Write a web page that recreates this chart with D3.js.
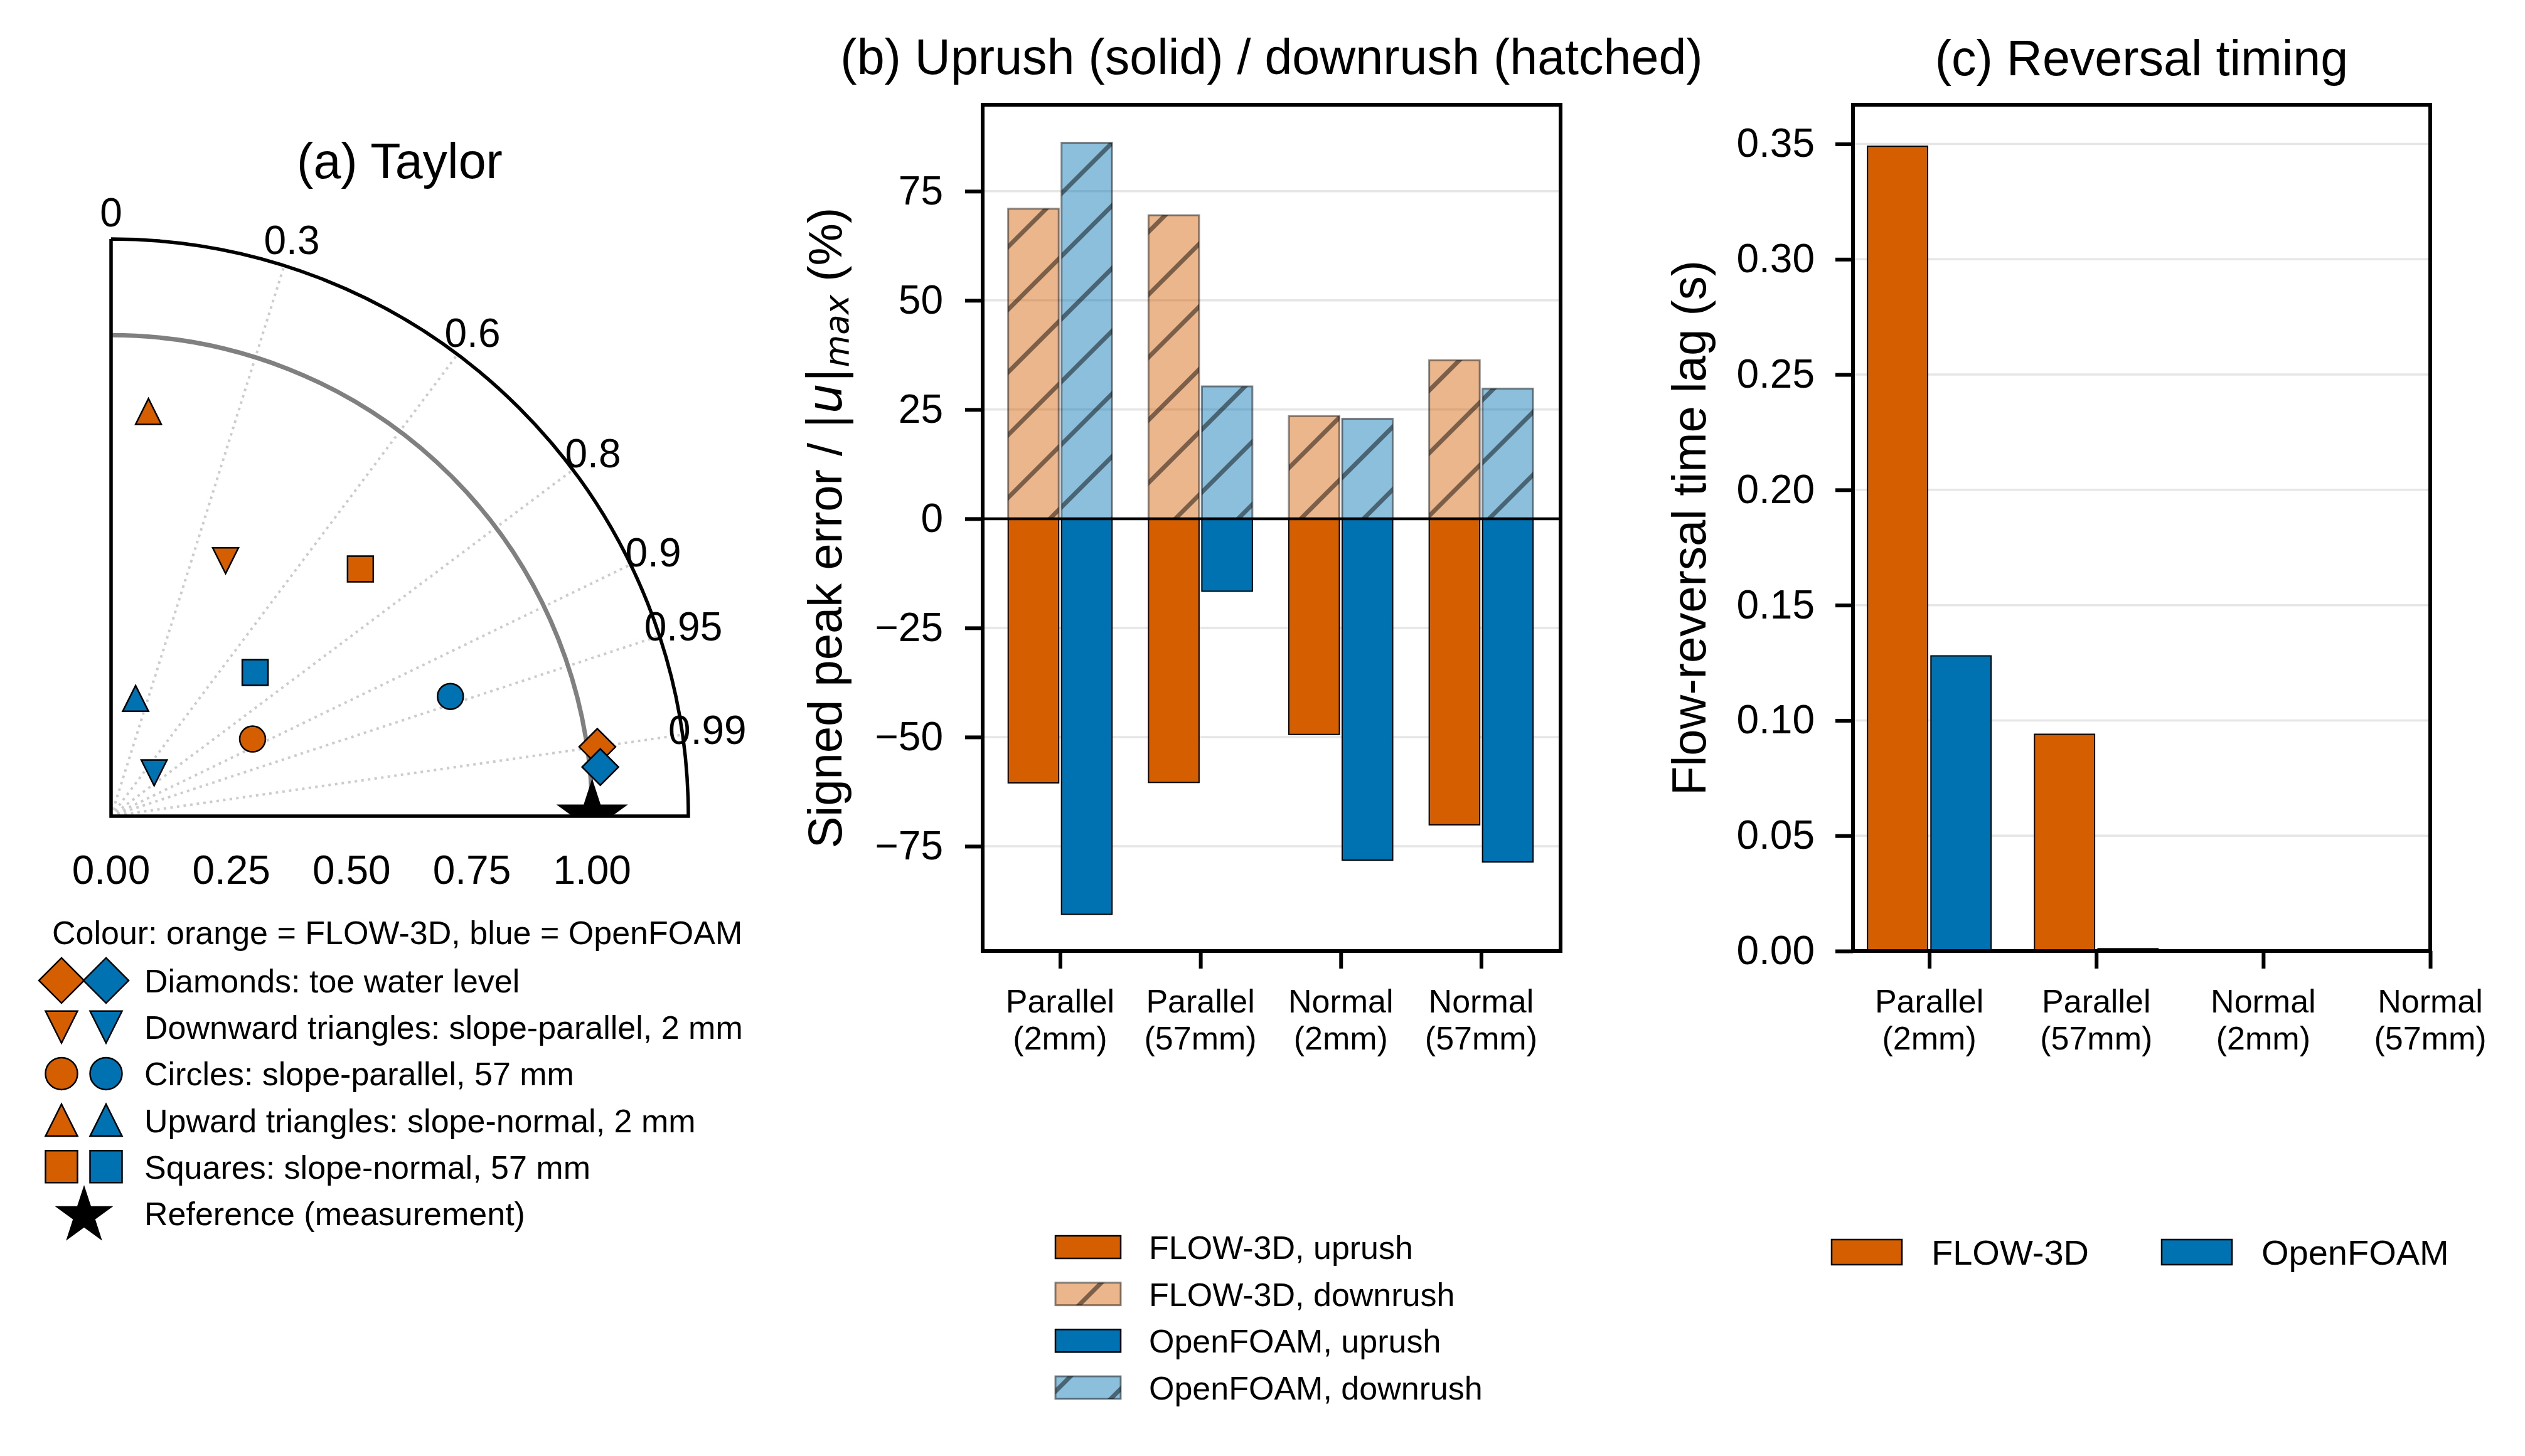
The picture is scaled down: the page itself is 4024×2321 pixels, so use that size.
<!DOCTYPE html>
<html>
<head>
<meta charset="utf-8">
<script src="https://d3js.org/d3.v7.min.js"></script>
<style>
  body { margin: 0; background: #fff; }
  svg { display: block; font-family: "Liberation Sans", Arial, Helvetica, sans-serif; }
</style>
</head>
<body>
<svg id="fig" width="4024" height="2321"></svg>
<script>
// ---- data ----
var taylorLabels = ["Diamonds: toe water level", "Downward triangles: slope-parallel, 2 mm",
  "Circles: slope-parallel, 57 mm", "Upward triangles: slope-normal, 2 mm", "Squares: slope-normal, 57 mm"];
var taylorShapes = ["D", "v", "o", "^", "s"];
var flowStd  = [1.021, 0.582, 0.335, 0.845, 0.730];
var flowCorr = [0.990, 0.409, 0.878, 0.092, 0.710];
var foamStd  = [1.022, 0.127, 0.748, 0.250, 0.423];
var foamCorr = [0.995, 0.705, 0.943, 0.204, 0.708];
var refStd = 1.0, refCorr = 1.0;
var corrTicks = [0, 0.3, 0.6, 0.8, 0.9, 0.95, 0.99];
var stdTicks = [0, 0.25, 0.5, 0.75, 1.0];

var cases = [["Parallel", "(2mm)"], ["Parallel", "(57mm)"], ["Normal", "(2mm)"], ["Normal", "(57mm)"]];
var flowUprush   = [-60.5, -60.4, -49.4, -70.1];
var foamUprush   = [-90.6, -16.6, -78.2, -78.6];
var flowDownrush = [71.0, 69.5, 23.5, 36.3];
var foamDownrush = [86.1, 30.3, 22.9, 29.8];
var bTicks = [-75, -50, -25, 0, 25, 50, 75];

var flowLag = [0.349, 0.094, 0, 0];
var foamLag = [0.128, 0.001, 0, 0];
var cTicks = [0, 0.05, 0.10, 0.15, 0.20, 0.25, 0.30, 0.35];

var orange = "#D55E00", blue = "#0072B2";

var svg = d3.select("#fig");
var defs = svg.append("defs");

// hatch for downrush bars
var pat = defs.append("pattern").attr("id", "hatch")
  .attr("patternUnits", "userSpaceOnUse").attr("width", 100).attr("height", 100);
pat.append("path")
  .attr("d", "M-10,10 L10,-10 M0,100 L100,0 M90,110 L110,90")
  .attr("stroke", "#000").attr("stroke-opacity", 0.48).attr("stroke-width", 7);

// marker shapes, s = marker size in px
function markerPath(shape, s) {
  var h = s / 2, p = d3.path();
  if (shape == "o") { p.arc(0, 0, h, 0, 2 * Math.PI); p.closePath(); }
  else if (shape == "s") { p.rect(-h, -h, s, s); }
  else if (shape == "D") { var d = s * Math.SQRT1_2; p.moveTo(0, -d); p.lineTo(d, 0); p.lineTo(0, d); p.lineTo(-d, 0); p.closePath(); }
  else if (shape == "^") { p.moveTo(0, -h); p.lineTo(h, h); p.lineTo(-h, h); p.closePath(); }
  else if (shape == "v") { p.moveTo(0, h); p.lineTo(h, -h); p.lineTo(-h, -h); p.closePath(); }
  else if (shape == "*") {
    for (var k = 0; k < 10; k++) {
      var rr = k % 2 == 0 ? h : h * 0.381966;
      var a = -Math.PI / 2 + k * Math.PI / 5;
      if (k == 0) p.moveTo(rr * Math.cos(a), rr * Math.sin(a)); else p.lineTo(rr * Math.cos(a), rr * Math.sin(a));
    }
    p.closePath();
  }
  return p.toString();
}

// ================= (a) Taylor =================
var ox = 177, oy = 1301;
var r = d3.scaleLinear().domain([0, 1.2]).range([0, 920]);
var R = r(1.2);
function polar(std, corr) {
  var a = Math.acos(corr);
  return [ox + r(std) * Math.cos(a), oy - r(std) * Math.sin(a)];
}
var ta = svg.append("g");

defs.append("clipPath").attr("id", "quarter").append("path")
  .attr("d", "M" + ox + "," + oy + " L" + (ox + R) + "," + oy + " A" + R + "," + R + " 0 0 0 " + ox + "," + (oy - R) + " Z");

// correlation rays
ta.selectAll("line.ray").data(corrTicks.filter(function(c) { return c > 0; })).enter()
  .append("line").attr("class", "ray")
  .attr("x1", ox).attr("y1", oy)
  .attr("x2", function(c) { return polar(1.2, c)[0]; })
  .attr("y2", function(c) { return polar(1.2, c)[1]; })
  .attr("stroke", "#cccccc").attr("stroke-width", 4).attr("stroke-dasharray", "4,6.6");

// reference std arc
var refArc = d3.path();
refArc.moveTo(ox, oy - r(refStd));
refArc.arc(ox, oy, r(refStd), -Math.PI / 2, 0);
ta.append("path").attr("d", refArc.toString()).attr("fill", "none")
  .attr("stroke", "#808080").attr("stroke-width", 7);

// frame
var frame = d3.path();
frame.moveTo(ox, oy - R); frame.lineTo(ox, oy); frame.lineTo(ox + R, oy);
frame.arc(ox, oy, R, 0, -Math.PI / 2, true);
ta.append("path").attr("d", frame.toString()).attr("fill", "none")
  .attr("stroke", "#000").attr("stroke-width", 5.5);

// correlation labels
ta.selectAll("text.corr").data(corrTicks).enter().append("text")
  .attr("class", "corr")
  .attr("x", function(c) { var a = Math.acos(c); return ox + (R + 40) * Math.cos(a); })
  .attr("y", function(c) { var a = Math.acos(c); return oy - (R + 40) * Math.sin(a) - 3 + 23; })
  .attr("text-anchor", "middle").attr("font-size", 64)
  .text(function(c) { return String(c); });

// std tick labels
ta.selectAll("text.std").data(stdTicks).enter().append("text")
  .attr("class", "std")
  .attr("x", function(v) { return ox + r(v); }).attr("y", 1409)
  .attr("text-anchor", "middle").attr("font-size", 64)
  .text(d3.format(".2f"));

// points
var pts = ta.append("g").attr("clip-path", "url(#quarter)");
function drawPoints(stds, corrs, color) {
  pts.selectAll(null).data(stds).enter().append("path")
    .attr("d", function(d, i) { return markerPath(taylorShapes[i], 41); })
    .attr("transform", function(d, i) { var p = polar(d, corrs[i]); return "translate(" + p[0] + "," + p[1] + ")"; })
    .attr("fill", color).attr("stroke", "#000").attr("stroke-width", 2.5);
}
drawPoints(flowStd, flowCorr, orange);
drawPoints(foamStd, foamCorr, blue);
var rp = polar(refStd, refCorr);
pts.append("path").attr("d", markerPath("*", 120))
  .attr("transform", "translate(" + rp[0] + "," + rp[1] + ")").attr("fill", "#000");

ta.append("text").attr("x", ox + R / 2).attr("y", 284).attr("text-anchor", "middle")
  .attr("font-size", 79).text("(a) Taylor");

// Taylor legend
var lg = svg.append("g");
lg.append("text").attr("x", 83).attr("y", 1505).attr("font-size", 52)
  .text("Colour: orange = FLOW-3D, blue = OpenFOAM");
var rowY = d3.scaleLinear().domain([0, 5]).range([1563, 1934]);
taylorLabels.forEach(function(lbl, i) {
  lg.append("path").attr("d", markerPath(taylorShapes[i], 51))
    .attr("transform", "translate(98," + rowY(i) + ")")
    .attr("fill", orange).attr("stroke", "#000").attr("stroke-width", 2.5);
  lg.append("path").attr("d", markerPath(taylorShapes[i], 51))
    .attr("transform", "translate(169," + rowY(i) + ")")
    .attr("fill", blue).attr("stroke", "#000").attr("stroke-width", 2.5);
  lg.append("text").attr("x", 230).attr("y", rowY(i) + 19).attr("font-size", 52).text(lbl);
});
lg.append("path").attr("d", markerPath("*", 98))
  .attr("transform", "translate(134," + (rowY(5) + 4) + ")").attr("fill", "#000");
lg.append("text").attr("x", 230).attr("y", rowY(5) + 19).attr("font-size", 52).text("Reference (measurement)");

// ================= shared bar-panel helpers =================
var axTop = 167, axBottom = 1516;

function gridLines(g, y, ticks, left, right) {
  g.selectAll("line.grid").data(ticks).enter().append("line").attr("class", "grid")
    .attr("x1", left).attr("x2", right)
    .attr("y1", function(d) { return y(d); }).attr("y2", function(d) { return y(d); })
    .attr("stroke", "#e6e6e6").attr("stroke-width", 3.5);
}
function styleAxis(sel) {
  sel.select(".domain").remove();
  sel.selectAll(".tick line").attr("stroke", "#000").attr("stroke-width", 6);
  sel.selectAll(".tick text").attr("font-size", 64).attr("font-family", "'Liberation Sans', Arial, sans-serif").attr("fill", "#000");
}
function caseLabels(g, x) {
  var t = g.selectAll("text.case").data(cases).enter().append("text").attr("class", "case")
    .attr("text-anchor", "middle").attr("font-size", 52);
  t.append("tspan").attr("x", function(d, i) { return x(i); }).attr("y", 1614).text(function(d) { return d[0]; });
  t.append("tspan").attr("x", function(d, i) { return x(i); }).attr("y", 1673).text(function(d) { return d[1]; });
}
function spines(g, left, right) {
  g.append("rect").attr("x", left).attr("y", axTop).attr("width", right - left).attr("height", axBottom - axTop)
    .attr("fill", "none").attr("stroke", "#000").attr("stroke-width", 6);
}

// ================= (b) uprush / downrush =================
var bL = 1566, bR = 2487;
var xb = d3.scaleLinear().domain([-0.552, 3.566]).range([bL, bR]);
var yb = d3.scaleLinear().domain([-99.0, 94.8]).range([axBottom, axTop]);
var gb = svg.append("g");
gridLines(gb, yb, bTicks, bL, bR);

var bw = 0.36, off = 0.19;
function barsB(vals, color, dx, hatched) {
  var bx = function(d, i) { return xb(i + dx - bw / 2); };
  var by = function(d) { return yb(Math.max(0, d)); };
  var bh = function(d) { return Math.abs(yb(d) - yb(0)); };
  var w = xb(bw) - xb(0);
  if (!hatched) {
    gb.selectAll(null).data(vals).enter().append("rect")
      .attr("x", bx).attr("y", by).attr("width", w).attr("height", bh)
      .attr("fill", color).attr("stroke", "#000").attr("stroke-width", 2);
  } else {
    gb.selectAll(null).data(vals).enter().append("rect")
      .attr("x", bx).attr("y", by).attr("width", w).attr("height", bh)
      .attr("fill", color).attr("fill-opacity", 0.45);
    gb.selectAll(null).data(vals).enter().append("rect")
      .attr("x", bx).attr("y", by).attr("width", w).attr("height", bh)
      .attr("fill", "url(#hatch)").attr("stroke", "#000").attr("stroke-opacity", 0.45).attr("stroke-width", 3);
  }
}
barsB(flowUprush, orange, -off, false);
barsB(foamUprush, blue, off, false);
barsB(flowDownrush, orange, -off, true);
barsB(foamDownrush, blue, off, true);

gb.append("line").attr("x1", bL).attr("x2", bR).attr("y1", yb(0)).attr("y2", yb(0))
  .attr("stroke", "#000").attr("stroke-width", 4.5);

gb.append("g").attr("transform", "translate(" + bL + ",0)")
  .call(d3.axisLeft(yb).tickValues(bTicks).tickSize(28).tickPadding(35).tickFormat(d3.format("d")))
  .call(styleAxis);
gb.append("g").attr("transform", "translate(0," + axBottom + ")")
  .call(d3.axisBottom(xb).tickValues([0, 1, 2, 3]).tickSize(28).tickFormat(""))
  .call(styleAxis);
caseLabels(gb, xb);
spines(gb, bL, bR);

gb.append("text").attr("x", (bL + bR) / 2).attr("y", 118).attr("text-anchor", "middle")
  .attr("font-size", 79).text("(b) Uprush (solid) / downrush (hatched)");

// y label with a math part |u|_max (mathtext style)
var ylb = gb.append("text").attr("transform", "translate(1341," + (axTop + axBottom) / 2 + ") rotate(-90)")
  .attr("text-anchor", "middle").attr("font-size", 76);
ylb.append("tspan").text("Signed peak error / ");
ylb.append("tspan").attr("font-family", "'DejaVu Sans', sans-serif").text("|");
ylb.append("tspan").attr("font-family", "'DejaVu Sans', sans-serif").attr("font-style", "italic").text("u");
ylb.append("tspan").attr("font-family", "'DejaVu Sans', sans-serif").text("|");
ylb.append("tspan").attr("font-family", "'DejaVu Sans', sans-serif").attr("font-style", "italic")
  .attr("font-size", 53).attr("dy", 11).text("max");
ylb.append("tspan").attr("dy", -11).text(" (%)");

// legend b
var legB = [
  { label: "FLOW-3D, uprush", color: orange, hatched: false },
  { label: "FLOW-3D, downrush", color: orange, hatched: true },
  { label: "OpenFOAM, uprush", color: blue, hatched: false },
  { label: "OpenFOAM, downrush", color: blue, hatched: true }
];
var legRowB = d3.scaleLinear().domain([0, 3]).range([1988, 2212]);
legB.forEach(function(e, i) {
  var yy = legRowB(i);
  if (!e.hatched) {
    gb.append("rect").attr("x", 1682).attr("y", yy - 18).attr("width", 104).attr("height", 36)
      .attr("fill", e.color).attr("stroke", "#000").attr("stroke-width", 2.5);
  } else {
    gb.append("rect").attr("x", 1682).attr("y", yy - 18).attr("width", 104).attr("height", 36)
      .attr("fill", e.color).attr("fill-opacity", 0.45);
    gb.append("rect").attr("x", 1682).attr("y", yy - 18).attr("width", 104).attr("height", 36)
      .attr("fill", "url(#hatch)").attr("stroke", "#000").attr("stroke-opacity", 0.45).attr("stroke-width", 3);
  }
  gb.append("text").attr("x", 1831).attr("y", yy + 19).attr("font-size", 52).text(e.label);
});

// ================= (c) reversal timing =================
var cL = 2953, cR = 3873;
var xc = d3.scaleLinear().domain([-0.457, 3.0]).range([cL, cR]);
var yc = d3.scaleLinear().domain([0, 0.367]).range([axBottom, axTop]);
var gc = svg.append("g");
gridLines(gc, yc, cTicks, cL, cR);

function barsC(vals, color, dx) {
  gc.selectAll(null).data(vals).enter().append("rect")
    .attr("x", function(d, i) { return xc(i + dx - bw / 2); })
    .attr("y", function(d) { return yc(d); })
    .attr("width", xc(bw) - xc(0))
    .attr("height", function(d) { return yc(0) - yc(d); })
    .attr("fill", color).attr("stroke", "#000").attr("stroke-width", 2);
}
barsC(flowLag, orange, -off);
barsC(foamLag, blue, off);

gc.append("g").attr("transform", "translate(" + cL + ",0)")
  .call(d3.axisLeft(yc).tickValues(cTicks).tickSize(28).tickPadding(33).tickFormat(d3.format(".2f")))
  .call(styleAxis);
gc.append("g").attr("transform", "translate(0," + axBottom + ")")
  .call(d3.axisBottom(xc).tickValues([0, 1, 2, 3]).tickSize(28).tickFormat(""))
  .call(styleAxis);
caseLabels(gc, xc);
spines(gc, cL, cR);

gc.append("text").attr("x", (cL + cR) / 2).attr("y", 120).attr("text-anchor", "middle")
  .attr("font-size", 79).text("(c) Reversal timing");
gc.append("text").attr("transform", "translate(2718," + (axTop + axBottom) / 2 + ") rotate(-90)")
  .attr("text-anchor", "middle").attr("font-size", 76).text("Flow-reversal time lag (s)");

// legend c
var legC = [{ label: "FLOW-3D", color: orange, x: 2919 }, { label: "OpenFOAM", color: blue, x: 3445 }];
legC.forEach(function(e) {
  gc.append("rect").attr("x", e.x).attr("y", 1996 - 20).attr("width", 112).attr("height", 40)
    .attr("fill", e.color).attr("stroke", "#000").attr("stroke-width", 2.5);
  gc.append("text").attr("x", e.x + 159).attr("y", 1996 + 20).attr("font-size", 56).text(e.label);
});
</script>
</body>
</html>
